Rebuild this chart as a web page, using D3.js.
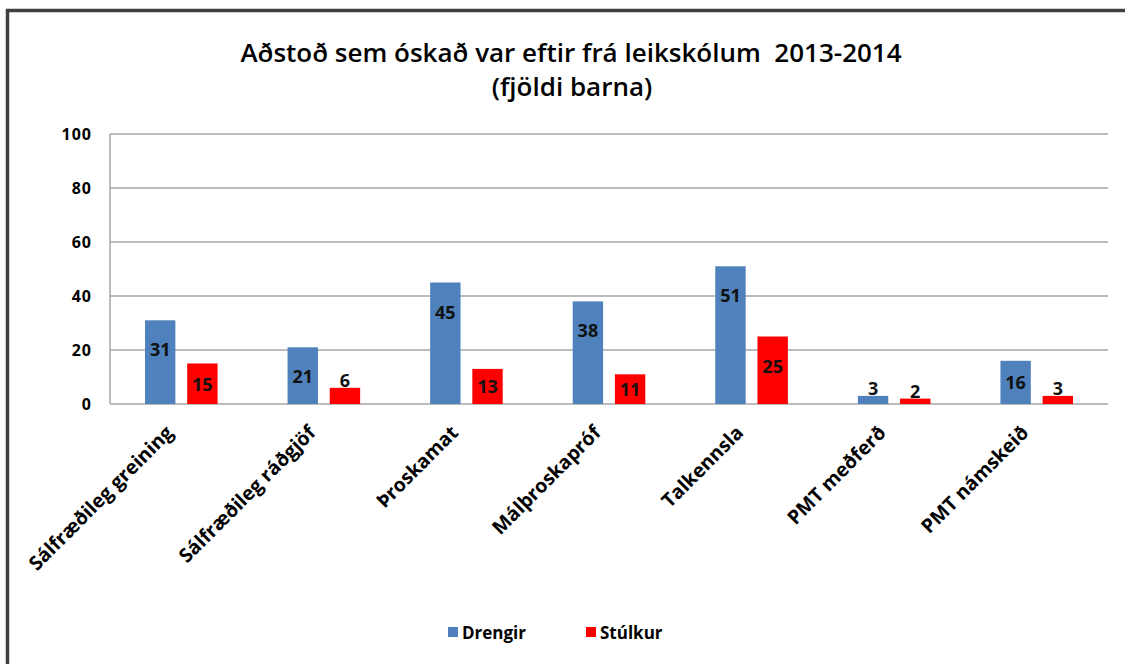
<!DOCTYPE html>
<html>
<head>
<meta charset="utf-8">
<script src="https://cdn.jsdelivr.net/npm/d3@7"></script>
<style>
  body { margin: 0; background: #fff; }
  svg text { font-family: "Open Sans", "DejaVu Sans", sans-serif; white-space: pre; }
</style>
</head>
<body>
<div id="chart"></div>
<script>

// data
const categories = ["Sálfræðileg greining", "Sálfræðileg ráðgjöf", "Þroskamat", "Málþroskapróf",
                    "Talkennsla", "PMT meðferð", "PMT námskeið"];
const drengir = [31, 21, 45, 38, 51, 3, 16];
const stulkur = [15, 6, 13, 11, 25, 2, 3];
const yTicks = [0, 20, 40, 60, 80, 100];
const seriesNames = ["Drengir", "Stúlkur"];
const seriesColors = ["#4f81bd", "#ff0000"];

const width = 1125, height = 664;
const margin = {top: 134, right: 17, bottom: 260, left: 110};
const plotW = width - margin.left - margin.right;
const plotH = height - margin.top - margin.bottom;

const svg = d3.select("#chart").append("svg")
    .attr("width", width)
    .attr("height", height);

// outer frame
svg.append("rect")
    .attr("x", 7.5).attr("y", 10.5)
    .attr("width", width + 20).attr("height", height + 20)
    .attr("fill", "none")
    .attr("stroke", "#404040")
    .attr("stroke-width", 3.5);

// title
svg.append("text")
    .attr("x", 571).attr("y", 62)
    .attr("text-anchor", "middle")
    .attr("font-size", 26)
    .attr("font-weight", 600)
    .text("Aðstoð sem óskað var eftir frá leikskólum  2013-2014");
svg.append("text")
    .attr("x", 572).attr("y", 96)
    .attr("text-anchor", "middle")
    .attr("font-size", 26)
    .attr("font-weight", 600)
    .text("(fjöldi barna)");

const g = svg.append("g")
    .attr("transform", "translate(" + margin.left + "," + margin.top + ")");

const x0 = d3.scaleBand().domain(categories).range([0, plotW]);
const x1 = d3.scaleBand().domain(seriesNames).range([35, x0.bandwidth() - 35]).paddingInner(0.28);
const y = d3.scaleLinear().domain([0, 100]).range([plotH, 0]);

// gridlines
g.selectAll(".grid")
    .data(yTicks)
    .join("line")
    .attr("x1", 0).attr("x2", plotW)
    .attr("y1", d => y(d)).attr("y2", d => y(d))
    .attr("stroke", "#a6a6a6")
    .attr("stroke-width", 1.5);

// left axis line
g.append("line")
    .attr("x1", 0).attr("x2", 0)
    .attr("y1", 0).attr("y2", plotH)
    .attr("stroke", "#a6a6a6")
    .attr("stroke-width", 1.5);

// y tick labels
g.selectAll(".ytick")
    .data(yTicks)
    .join("text")
    .attr("x", -18)
    .attr("y", d => y(d) + 6)
    .attr("text-anchor", "end")
    .attr("font-size", 16)
    .attr("font-weight", "bold")
    .attr("letter-spacing", 1)
    .text(d => d);

// bars
const rows = categories.map((c, i) => ({cat: c, vals: [drengir[i], stulkur[i]]}));
const groups = g.selectAll(".grp")
    .data(rows)
    .join("g")
    .attr("transform", d => "translate(" + x0(d.cat) + ",0)");

const barData = d => d.vals.map((v, j) => ({name: seriesNames[j], v: v, color: seriesColors[j]}));

groups.selectAll("rect")
    .data(barData)
    .join("rect")
    .attr("x", d => x1(d.name))
    .attr("width", x1.bandwidth())
    .attr("y", d => y(d.v))
    .attr("height", d => plotH - y(d.v))
    .attr("fill", d => d.color);

// data labels
groups.selectAll(".lbl")
    .data(barData)
    .join("text")
    .attr("x", d => x1(d.name) + x1.bandwidth() / 2)
    .attr("y", d => {
        const top = y(d.v);
        if (d.v < 10) return top - 8 + 7;
        return Math.min(top + 29, (top + plotH) / 2) + 7;
    })
    .attr("text-anchor", "middle")
    .attr("font-size", 18)
    .attr("font-weight", "bold")
    .attr("fill", "#111")
    .text(d => d.v);

// category labels
g.selectAll(".xlab")
    .data(categories)
    .join("text")
    .attr("transform", d => "translate(" + (x0(d) + x0.bandwidth() / 2 - 7) + "," + (plotH + 30) + ") rotate(-45)")
    .attr("text-anchor", "end")
    .attr("font-size", 19.5)
    .attr("font-weight", "bold")
    .text(d => d);

// legend
const legend = svg.append("g");
const legendX = [448, 586];
seriesNames.forEach((s, i) => {
    legend.append("rect")
        .attr("x", legendX[i]).attr("y", 627)
        .attr("width", 10).attr("height", 10)
        .attr("fill", seriesColors[i]);
    legend.append("text")
        .attr("x", legendX[i] + 14).attr("y", 639)
        .attr("font-size", 17)
        .attr("font-weight", "bold")
        .text(s);
});

</script>
</body>
</html>
